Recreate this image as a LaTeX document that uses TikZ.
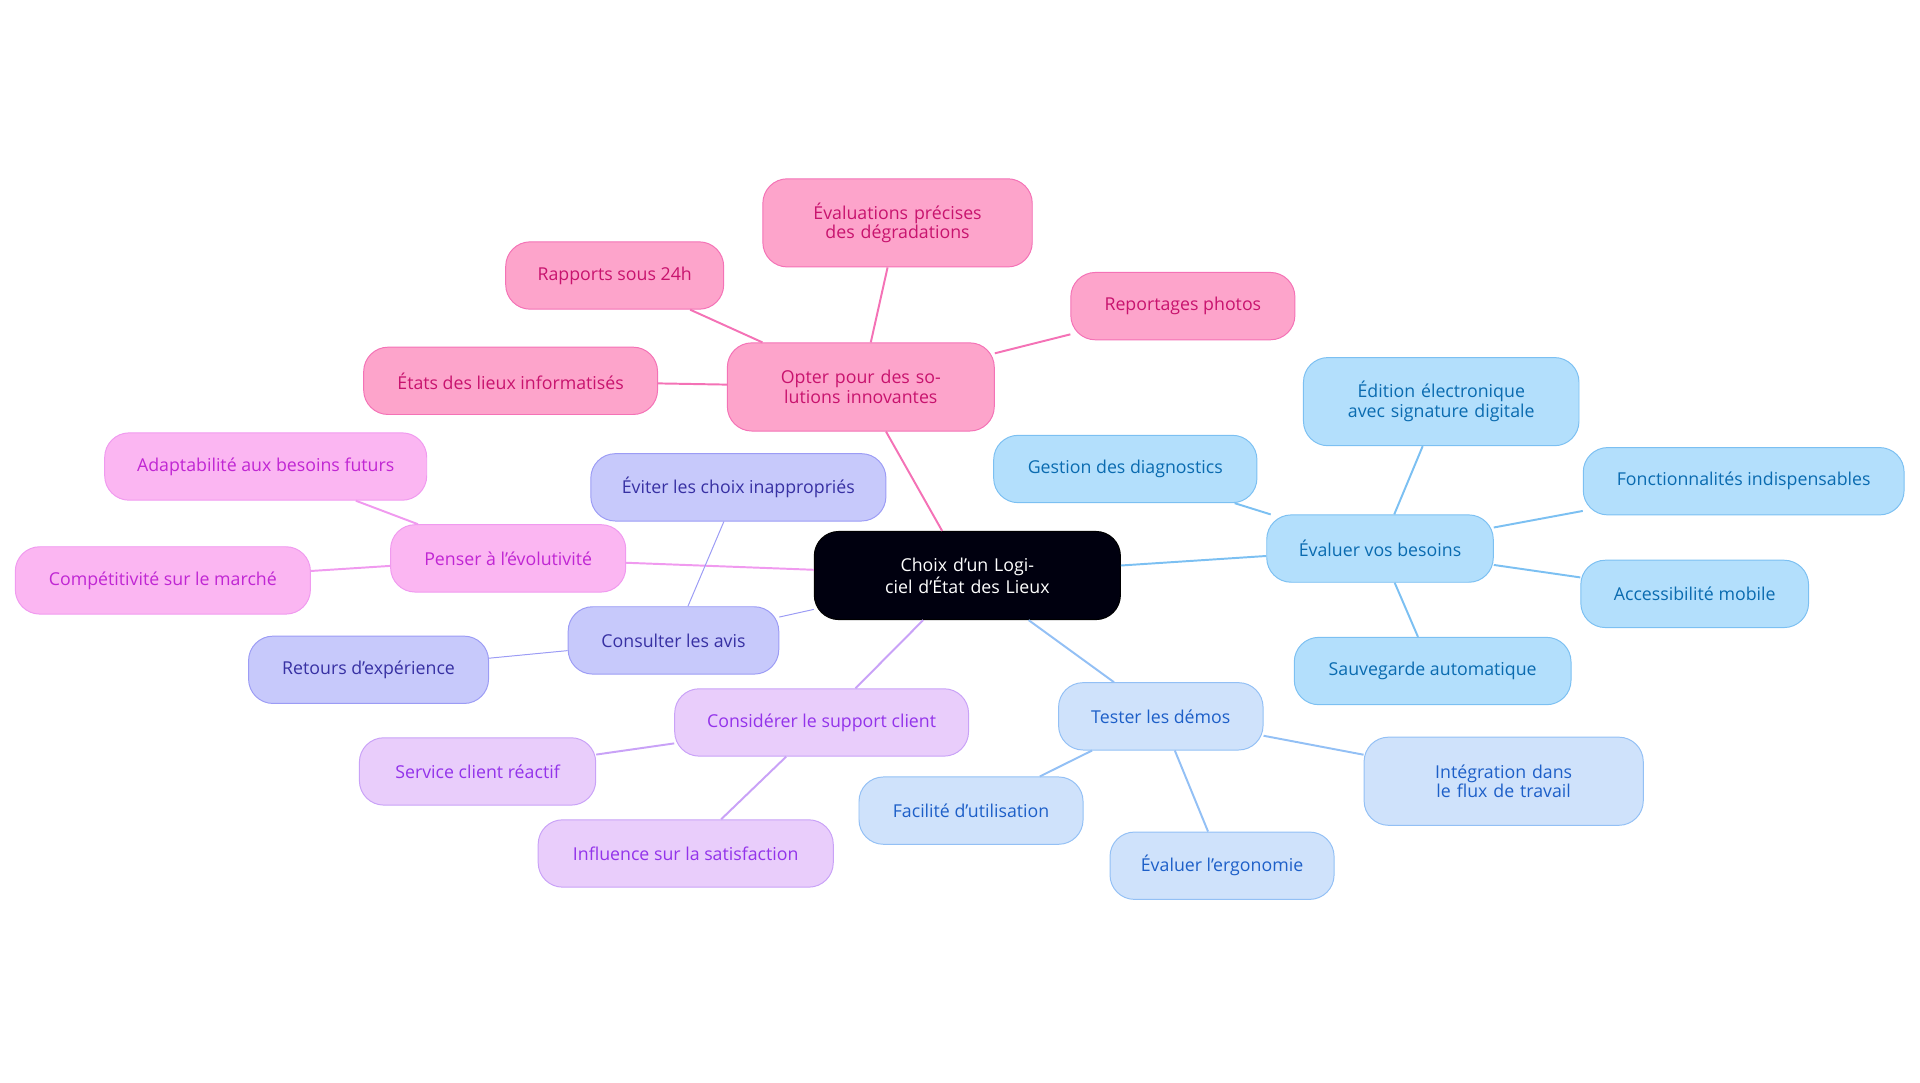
\documentclass[tikz,border=0pt]{standalone}
\usepackage{fontspec}
\setmainfont{Open Sans}
\begin{document}
\begin{tikzpicture}[x=1pt,y=-1pt,
 base/.style={rounded corners=20pt,align=center,font=\fontsize{14.5}{16}\selectfont,inner sep=0pt,line width=0.8pt},
 pk/.style={base,fill=pkf,draw=pkd,text=pkt},
 mg/.style={base,fill=mgf,draw=mgd,text=mgt},
 ind/.style={base,fill=inf,draw=ind,text=int},
 pu/.style={base,fill=puf,draw=pud,text=put},
 lb/.style={base,fill=lbf,draw=lbd,text=lbt},
 sb/.style={base,fill=sbf,draw=sbd,text=sbt},
 sz/.style n args={2}{minimum width=#1,minimum height=#2},
 e/.style={line width=1.6pt}]
\definecolor{pkf}{HTML}{FDA4CB}\definecolor{pkd}{HTML}{F472B6}\definecolor{pkt}{HTML}{C8136E}
\definecolor{mgf}{HTML}{FBB6F2}\definecolor{mgd}{HTML}{F09AEF}\definecolor{mgt}{HTML}{C026D3}
\definecolor{inf}{HTML}{C7C9FB}\definecolor{ind}{HTML}{9C9CF5}\definecolor{int}{HTML}{3730A3}
\definecolor{puf}{HTML}{E9CDFB}\definecolor{pud}{HTML}{C9A2F7}\definecolor{put}{HTML}{9333EA}
\definecolor{lbf}{HTML}{CFE2FB}\definecolor{lbd}{HTML}{93C0F5}\definecolor{lbt}{HTML}{1D5FC8}
\definecolor{sbf}{HTML}{B3DFFC}\definecolor{sbd}{HTML}{7CC0F2}\definecolor{sbt}{HTML}{0A6BB0}
\useasboundingbox (0,0) rectangle (1568,884);
\node[base,fill=black!90!blue!60!black,draw=black,text=white,sz={250pt}{72pt},text width=215pt] (c) at (790,470) {Choix d'un Logiciel d'État des Lieux};
% pink
\node[pk,sz={218pt}{72pt},text width=190pt] (o) at (703,316) {Opter pour des solutions innovantes};
\node[pk,sz={220pt}{72pt},text width=195pt] (o1) at (733,182) {Évaluations précises des dégradations};
\node[pk,sz={178pt}{55pt}] (o2) at (502,225) {Rapports sous 24h};
\node[pk,sz={183pt}{55pt}] (o3) at (966,250) {Reportages photos};
\node[pk,sz={240pt}{55pt}] (o4) at (417,311) {États des lieux informatisés};
% magenta
\node[mg,sz={192pt}{55pt}] (p) at (415,456) {Penser à l'évolutivité};
\node[mg,sz={263pt}{55pt}] (p1) at (217,381) {Adaptabilité aux besoins futurs};
\node[mg,sz={241pt}{55pt}] (p2) at (133,474) {Compétitivité sur le marché};
% indigo
\node[ind,sz={172pt}{55pt}] (k) at (550,523) {Consulter les avis};
\node[ind,sz={241pt}{55pt}] (k1) at (603,398) {Éviter les choix inappropriés};
\node[ind,sz={196pt}{55pt}] (k2) at (301,547) {Retours d'expérience};
% purple
\node[pu,sz={240pt}{55pt}] (s) at (671,590) {Considérer le support client};
\node[pu,sz={193pt}{55pt}] (s1) at (390,630) {Service client réactif};
\node[pu,sz={241pt}{55pt}] (s2) at (560,697) {Influence sur la satisfaction};
% light blue
\node[lb,sz={167pt}{55pt}] (t) at (948,585) {Tester les démos};
\node[lb,sz={183pt}{55pt}] (t1) at (793,662) {Facilité d'utilisation};
\node[lb,sz={183pt}{55pt}] (t2) at (998,707) {Évaluer l'ergonomie};
\node[lb,sz={228pt}{72pt},text width=190pt] (t3) at (1228,638) {Intégration dans le flux de travail};
% sky blue
\node[sb,sz={185pt}{55pt}] (b) at (1127,448) {Évaluer vos besoins};
\node[sb,sz={215pt}{55pt}] (b1) at (919,383) {Gestion des diagnostics};
\node[sb,sz={225pt}{72pt},text width=200pt] (b2) at (1177,328) {Édition électronique avec signature digitale};
\node[sb,sz={262pt}{55pt}] (b3) at (1424,393) {Fonctionnalités indispensables};
\node[sb,sz={186pt}{55pt}] (b4) at (1384,485) {Accessibilité mobile};
\node[sb,sz={226pt}{55pt}] (b5) at (1170,548) {Sauvegarde automatique};
\begin{scope}[on background layer/.style={}]
\end{scope}
\begin{pgfonlayer}{main}\end{pgfonlayer}
\draw[e,pkd] (c) -- (o) (o) -- (o1) (o) -- (o2) (o) -- (o3) (o) -- (o4);
\draw[e,mgd] (c) -- (p) (p) -- (p1) (p) -- (p2);
\draw[e,ind] (c) -- (k) (k) -- (k1) (k) -- (k2);
\draw[e,pud] (c) -- (s) (s) -- (s1) (s) -- (s2);
\draw[e,lbd] (c) -- (t) (t) -- (t1) (t) -- (t2) (t) -- (t3);
\draw[e,sbd] (c) -- (b) (b) -- (b1) (b) -- (b2) (b) -- (b3) (b) -- (b4) (b) -- (b5);
\end{tikzpicture}
\end{document}
